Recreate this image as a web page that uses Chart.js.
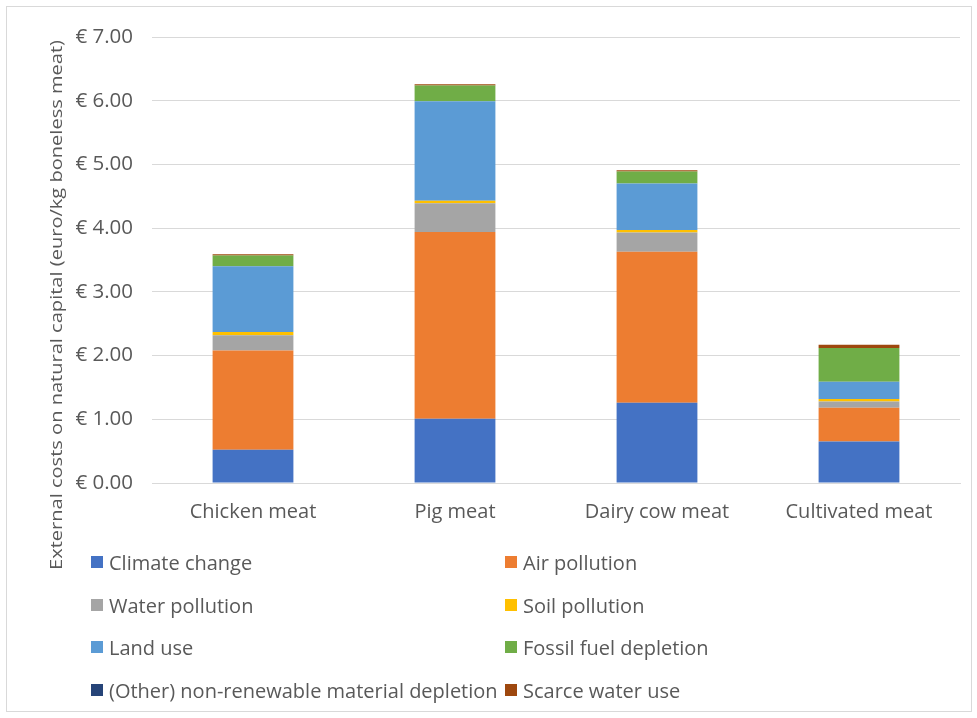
<!DOCTYPE html>
<html>
<head>
<meta charset="utf-8">
<script src="https://cdn.jsdelivr.net/npm/chart.js@4"></script>
<style>
  html, body { margin: 0; padding: 0; background: #fff; }
  #wrap { position: relative; width: 977px; height: 718px; overflow: hidden; }
  #frame { position: absolute; left: 6px; top: 6px; width: 966px; height: 706px; border: 1px solid #d9d9d9; box-sizing: border-box; }
  canvas { position: absolute; left: 0; top: 0; }
  #legend { position: absolute; left: 91px; top: 547px; width: 860px; font-family: "Open Sans", Lato, sans-serif; font-size: 20px; color: #595959; }
  .item { position: absolute; white-space: nowrap; display: flex; align-items: center; height: 30px; }
  .box { width: 12px; height: 12px; margin-right: 6px; display: inline-block; }
</style>
</head>
<body>
<div id="wrap">
  <div id="frame"></div>
  <canvas id="c" width="977" height="718"></canvas>
  <div id="legend"></div>
</div>
<script>
const categories = ['Chicken meat', 'Pig meat', 'Dairy cow meat', 'Cultivated meat'];

const climateChange   = [0.52, 1.01, 1.26, 0.65];
const airPollution    = [1.56, 2.93, 2.37, 0.53];
const waterPollution  = [0.24, 0.45, 0.30, 0.10];
const soilPollution   = [0.05, 0.04, 0.04, 0.04];
const landUse         = [1.03, 1.56, 0.73, 0.27];
const fossilFuel      = [0.17, 0.25, 0.19, 0.53];
const otherMaterial   = [0.00, 0.00, 0.00, 0.00];
const scarceWater     = [0.02, 0.02, 0.02, 0.05];

const seriesNames = ['Climate change', 'Air pollution', 'Water pollution', 'Soil pollution',
  'Land use', 'Fossil fuel depletion', '(Other) non-renewable material depletion', 'Scarce water use'];
const seriesValues = [climateChange, airPollution, waterPollution, soilPollution,
  landUse, fossilFuel, otherMaterial, scarceWater];
const seriesColors = ['#4472C4', '#ED7D31', '#A5A5A5', '#FFC000', '#5B9BD5', '#70AD47', '#264478', '#9E480E'];

const yTicks = [0, 1, 2, 3, 4, 5, 6, 7];
const yTitle = 'External costs on natural capital (euro/kg boneless meat)';

const textColor = '#595959';
const fontFamily = '"Open Sans", Lato, sans-serif';

// Rotated axis title, centred over plot plus legend region
const yTitlePlugin = {
  id: 'yTitle',
  afterDraw(chart) {
    const ctx = chart.ctx;
    ctx.save();
    ctx.translate(57, 305);
    ctx.rotate(-Math.PI / 2);
    ctx.fillStyle = textColor;
    ctx.font = '17px ' + fontFamily;
    const w = ctx.measureText(yTitle).width;
    ctx.scale(530 / w, 1);
    ctx.textAlign = 'center';
    ctx.textBaseline = 'middle';
    ctx.fillText(yTitle, 0, 0);
    ctx.restore();
  }
};

new Chart(document.getElementById('c'), {
  type: 'bar',
  data: {
    labels: categories,
    datasets: seriesNames.map((name, i) => ({
      label: name,
      data: seriesValues[i],
      backgroundColor: seriesColors[i],
      borderWidth: 0,
      barPercentage: 0.4,
      categoryPercentage: 1.0
    }))
  },
  options: {
    responsive: false,
    animation: false,
    layout: { padding: { left: 52, top: 37, right: 17, bottom: 195 } },
    plugins: { legend: { display: false }, tooltip: { enabled: false } },
    scales: {
      x: {
        stacked: true,
        grid: { display: false, drawTicks: false },
        border: { color: '#d9d9d9', width: 1 },
        ticks: { color: textColor, font: { family: fontFamily, size: 20 }, padding: 17 },
        afterFit(scale) { scale.height = 40; }
      },
      y: {
        stacked: true,
        min: 0,
        max: 7,
        afterBuildTicks(scale) { scale.ticks = yTicks.map(v => ({ value: v })); },
        grid: { color: '#d9d9d9', lineWidth: 1, drawTicks: false },
        border: { display: false },
        ticks: {
          color: textColor,
          font: { family: fontFamily, size: 20.5 },
          padding: 19,
          callback: v => '€ ' + Number(v).toFixed(2)
        },
        afterFit(scale) { scale.width = 100; }
      }
    }
  },
  plugins: [yTitlePlugin]
});

// Two-column legend
const legend = document.getElementById('legend');
const colX = [0, 414];
const rowY = [0, 43, 85, 128];
seriesNames.forEach((name, i) => {
  const el = document.createElement('div');
  el.className = 'item';
  el.style.left = colX[i % 2] + 'px';
  el.style.top = rowY[Math.floor(i / 2)] + 'px';
  const box = document.createElement('span');
  box.className = 'box';
  box.style.background = seriesColors[i];
  const txt = document.createElement('span');
  txt.textContent = name;
  el.appendChild(box);
  el.appendChild(txt);
  legend.appendChild(el);
});
</script>
</body>
</html>
